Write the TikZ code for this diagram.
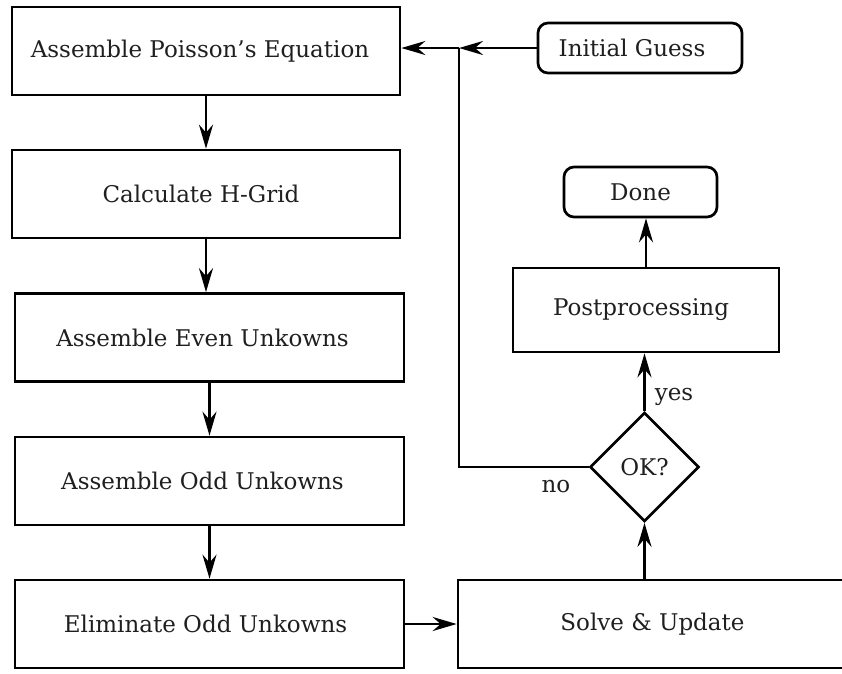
\documentclass[tikz,border=0pt]{standalone}
\usepackage{fontspec}
\setmainfont{DejaVu Serif}
\usetikzlibrary{shapes.geometric,arrows.meta}
\newcommand\flowfont{\fontsize{23}{27}\selectfont}
\begin{document}
\begin{tikzpicture}[x=1pt,y=-1pt,
  every node/.style={font=\flowfont, text=black!88},
  box/.style={draw=black, line width=2.7pt, minimum width=389pt, minimum height=88pt, inner sep=0pt},
  rbox/.style={draw=black, line width=2.7pt, rounded corners=10pt, inner sep=0pt},
  dec/.style={draw=black, diamond, line width=2.7pt, minimum width=109pt, minimum height=109pt, inner sep=0pt},
  conn/.style={line width=2.7pt, draw=black},
  arr/.style={conn, -{Stealth[length=24pt, width=14pt, inset=8pt]}},
  lbl/.style={inner sep=0pt}
]
\useasboundingbox (0,0) rectangle (842,673);

\node[box, minimum width=388pt] (poisson) at (206,51) {\hspace*{-12pt}Assemble Poisson's Equation};
\node[box, minimum width=388pt] (hgrid) at (206,194) {\hspace*{-10pt}Calculate H-Grid};
\node[box] (even) at (209.5,337.5) {\hspace*{-14pt}Assemble Even Unkowns};
\node[box] (odd) at (209.5,481) {\hspace*{-14pt}Assemble Odd Unkowns};
\node[box] (elim) at (209.5,624) {\hspace*{-8pt}Eliminate Odd Unkowns};
\node[box] (solve) at (652.5,624) {Solve \& Update};

\node[rbox, minimum width=204pt, minimum height=50pt] (guess) at (640,48) {\hspace*{-16pt}Initial Guess};
\node[rbox, minimum width=153pt, minimum height=50pt] (done) at (640.5,192) {Done};
\node[box, minimum width=266pt, minimum height=84pt] (post) at (646,310) {\hspace*{-10pt}Postprocessing};
\node[dec] (ok) at (644.5,467) {OK?};

\node[lbl] (yes) at (674,397) {yes};
\node[lbl] (no) at (556,487) {no};

\coordinate (j) at (459,48);

\draw[arr] (poisson.south) -- (poisson.south |- hgrid.north);
\draw[arr] (hgrid.south) -- (hgrid.south |- even.north);
\draw[arr] (even.south) -- (even.south |- odd.north);
\draw[arr] (odd.south) -- (odd.south |- elim.north);
\draw[arr] (elim.east) -- (solve.west);
\draw[arr] (ok.south |- solve.north) -- (ok.south);
\draw[arr] (ok.north) -- (ok.north |- post.south);
\draw[arr] (post.north) -- (post.north |- done.south);
\draw[arr] (guess.west |- j) -- (j);
\draw[arr] (j) -- (j -| poisson.east);
\draw[conn] (ok.west) -| (j);
\end{tikzpicture}
\end{document}
